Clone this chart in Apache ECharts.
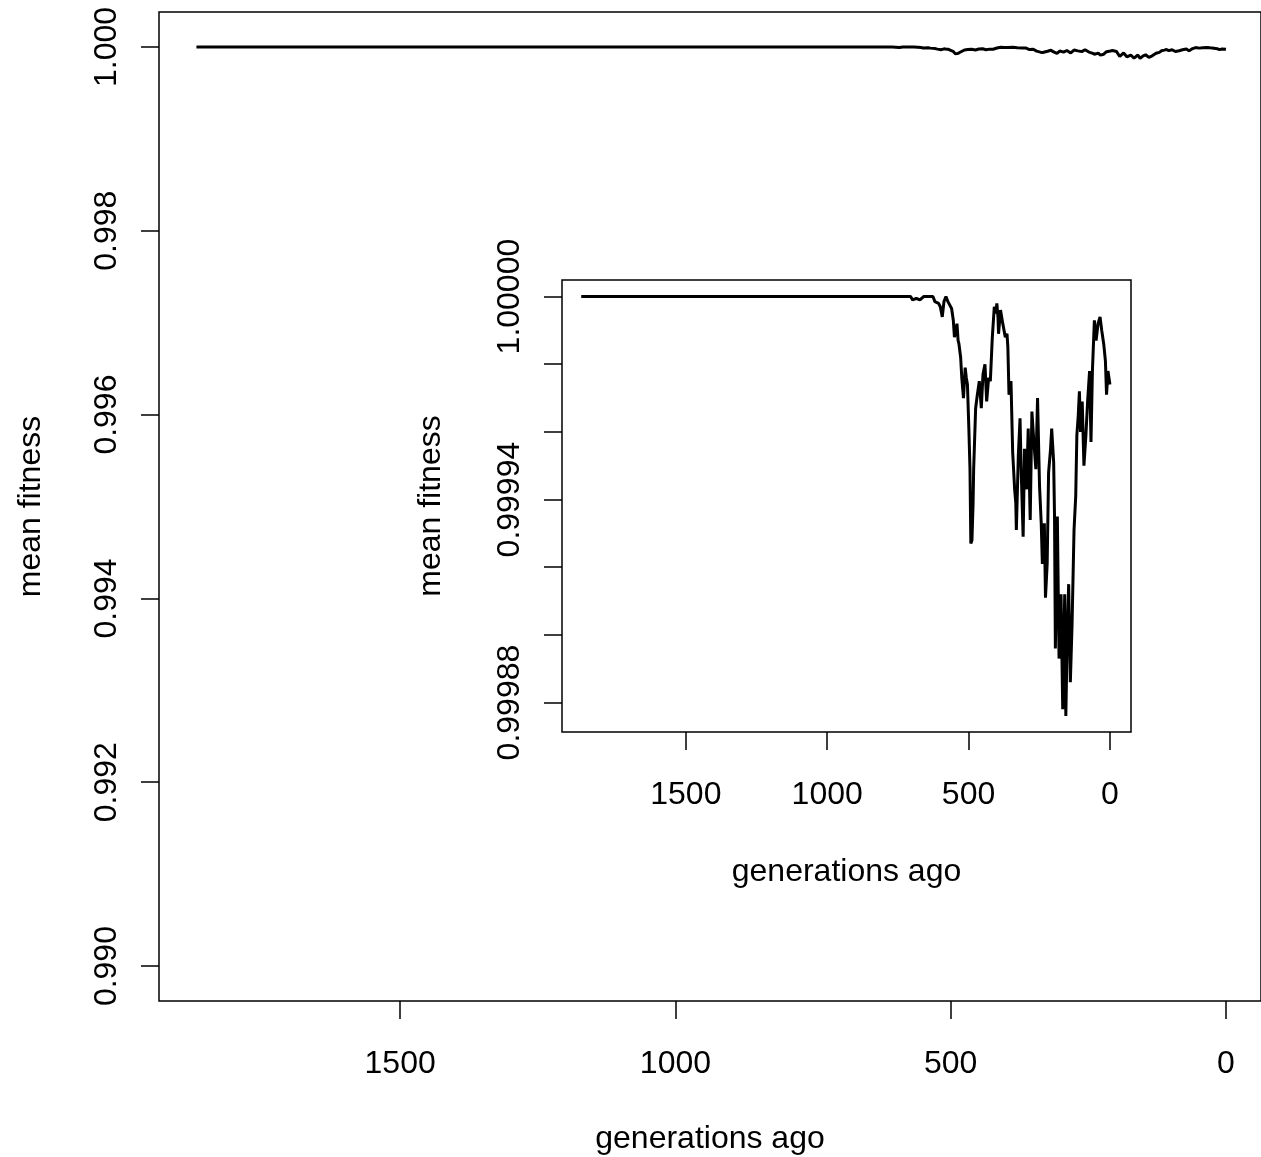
<!DOCTYPE html>
<html>
<head>
<meta charset="utf-8">
<script src="https://cdn.jsdelivr.net/npm/echarts@6/dist/echarts.min.js"></script>
<style>
  html, body { margin: 0; padding: 0; background: #fff; overflow: hidden; }
  #chart { width: 1261px; height: 1157px; }
</style>
</head>
<body>
<div id="chart"></div>
<script>
// generations ago
const gens = [1870, 705, 698, 685, 672, 659, 626, 619, 613, 606, 600, 593, 587, 580, 573, 567, 560, 554, 550, 547, 541, 537, 534, 528, 524, 518, 512, 508, 504, 499, 495, 492, 488, 484, 482, 475, 469, 462, 455, 449, 442, 436, 429, 423, 416, 409, 403, 400, 396, 394, 387, 379, 370, 364, 361, 357, 350, 344, 337, 333, 331, 324, 318, 314, 307, 302, 295, 289, 282, 276, 269, 262, 256, 249, 243, 239, 232, 228, 222, 217, 210, 206, 199, 196, 193, 186, 180, 173, 167, 160, 156, 151, 146, 140, 134, 127, 121, 117, 112, 108, 104, 98, 92, 85, 79, 72, 67, 62, 55, 49, 42, 35, 29, 22, 16, 12, 7, 0];
// mean fitness at those generations
const fitness = [1.0, 1.0, 0.999999, 0.9999995, 0.999999, 1.0, 1.0, 0.9999985, 0.999999, 0.999998, 0.999997, 0.999994, 0.9999985, 1.0, 0.9999985, 0.999998, 0.9999965, 0.999993, 0.999988, 0.999989, 0.999992, 0.999987, 0.999986, 0.999982, 0.999976, 0.99997, 0.999979, 0.999976, 0.999974, 0.999961, 0.999949, 0.999927, 0.999928, 0.999939, 0.999949, 0.999967, 0.999971, 0.999975, 0.999967, 0.999977, 0.99998, 0.999969, 0.999976, 0.999975, 0.999988, 0.999997, 0.999995, 0.999998, 0.999994, 0.999989, 0.999996, 0.999992, 0.999988, 0.999989, 0.999985, 0.999971, 0.999975, 0.999954, 0.999943, 0.999939, 0.999931, 0.999953, 0.999964, 0.999949, 0.999929, 0.999955, 0.999943, 0.999961, 0.999934, 0.999966, 0.999957, 0.999949, 0.99997, 0.999944, 0.999933, 0.999921, 0.999933, 0.999911, 0.999921, 0.999948, 0.999955, 0.999961, 0.999951, 0.999935, 0.999896, 0.999935, 0.999893, 0.999912, 0.999878, 0.999912, 0.999876, 0.9999, 0.999915, 0.999886, 0.999903, 0.999931, 0.999941, 0.999959, 0.999965, 0.999972, 0.99996, 0.999969, 0.99995, 0.999959, 0.999969, 0.999978, 0.999957, 0.999978, 0.999993, 0.999987, 0.999992, 0.999994, 0.99999, 0.999986, 0.999981, 0.999971, 0.999978, 0.999974];

const xTicks = [0, 500, 1000, 1500];
const mainYTicks = [0.990, 0.992, 0.994, 0.996, 0.998, 1.000];
const insetYTicks = [0.99988, 0.99990, 0.99992, 0.99994, 0.99996, 0.99998, 1.00000];
const insetYLabels = [0.99988, 0.99994, 1.00000];

const points = gens.map((g, i) => [g, fitness[i]]);

const font = { fontFamily: 'Liberation Sans, Arial, sans-serif', fontSize: 32, color: '#000' };
const tickStyle = { color: '#000', width: 1.5 };

// the main box runs off the right edge of the page, so its x range stops at -63.6
const xAxisBase = (gridIndex, min, labelMargin, nameGap) => ({
  gridIndex,
  type: 'value',
  inverse: true,
  min,
  max: 1938,
  name: 'generations ago',
  nameLocation: 'middle',
  nameGap,
  nameTextStyle: font,
  axisLine: { show: false, onZero: false },
  splitLine: { show: false },
  axisTick: { show: true, length: 18, customValues: xTicks, lineStyle: tickStyle },
  axisLabel: { ...font, margin: labelMargin, customValues: xTicks, formatter: v => String(v) }
});

const yAxisBase = (gridIndex, min, max, ticks, labels, digits, nameGap) => ({
  gridIndex,
  type: 'value',
  min,
  max,
  name: 'mean fitness',
  nameLocation: 'middle',
  nameGap,
  nameTextStyle: font,
  axisLine: { show: false, onZero: false },
  splitLine: { show: false },
  axisTick: { show: true, length: 18, customValues: ticks, lineStyle: tickStyle },
  axisLabel: { ...font, margin: 36, rotate: 90, customValues: labels, formatter: v => v.toFixed(digits) }
});

const chart = echarts.init(document.getElementById('chart'), null, { renderer: 'canvas' });
chart.setOption({
  animation: false,
  backgroundColor: '#fff',
  grid: [
    { left: 159, top: 12, width: 1102, height: 989, outerBoundsMode: 'none', show: true, borderColor: '#000', borderWidth: 1.5, backgroundColor: 'transparent' },
    { left: 562, top: 280, width: 569, height: 452, outerBoundsMode: 'none', show: true, borderColor: '#000', borderWidth: 1.5, backgroundColor: '#fff' }
  ],
  xAxis: [xAxisBase(0, -63.6, 47, 122), xAxisBase(1, -74.5, 47, 124)],
  yAxis: [
    yAxisBase(0, 0.98962, 1.00038, mainYTicks, mainYTicks, 3, 112),
    yAxisBase(1, 0.9998713, 1.0000049, insetYTicks, insetYLabels, 5, 115)
  ],
  series: [
    {
      type: 'line', xAxisIndex: 0, yAxisIndex: 0, data: points,
      showSymbol: false, lineStyle: { color: '#000', width: 3 }, z: 2
    },
    {
      type: 'line', xAxisIndex: 1, yAxisIndex: 1, data: points,
      showSymbol: false, lineStyle: { color: '#000', width: 3 }, z: 5
    }
  ]
});
</script>
</body>
</html>
